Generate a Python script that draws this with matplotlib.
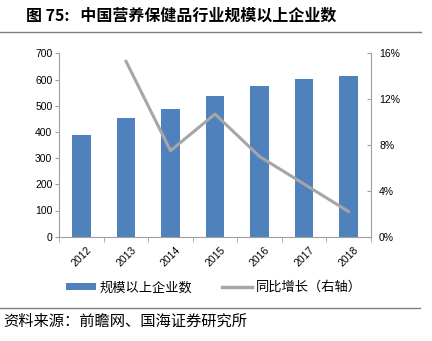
import matplotlib
matplotlib.use("Agg")
import matplotlib.pyplot as plt
import matplotlib.transforms as mtransforms
import numpy as np
from matplotlib.lines import Line2D
from matplotlib.patches import Patch

plt.rcParams["font.family"] = ["Liberation Sans", "Noto Sans CJK SC", "DejaVu Sans"]
CJK = ["Noto Sans CJK SC", "DejaVu Sans"]

years = ["2012", "2013", "2014", "2015", "2016", "2017", "2018"]
firms = [390, 452, 486, 537, 576, 601, 613]
growth_years = ["2013", "2014", "2015", "2016", "2017", "2018"]
growth = [15.3, 7.5, 10.7, 7.0, 4.6, 2.2]

BLUE = "#4F81BD"
GRAY = "#A6A6A6"
AXIS = "#A0A0A0"

fig = plt.figure(figsize=(4.32, 3.41), dpi=100)
ax = fig.add_axes([59.3 / 432, 1 - 236.7 / 341, (370.7 - 59.3) / 432, (236.7 - 53.3) / 341])

x = np.arange(len(years))
ax.bar(x, firms, width=0.41, color=BLUE, zorder=2)
ax.set_xlim(-0.5, len(years) - 0.5)
ax.set_ylim(0, 700)
ax.set_yticks(np.arange(0, 701, 100))
ax.tick_params(axis="y", direction="out", length=3, color=AXIS, labelsize=7.5, pad=2)
ax.set_xticks(x)
ax.set_xticklabels(years, rotation=45, ha="right", rotation_mode="anchor", fontsize=7.5)
ax.tick_params(axis="x", which="major", length=0, pad=6)
ax.set_xticks(np.arange(-0.5, len(years), 1), minor=True)
ax.tick_params(axis="x", which="minor", direction="out", length=3.5, color=AXIS)
shift = mtransforms.ScaledTranslation(5 / 100, 0, fig.dpi_scale_trans)
for lab in ax.get_xticklabels():
    lab.set_transform(lab.get_transform() + shift)
ax.spines["top"].set_visible(False)
ax.spines["right"].set_visible(False)
ax.spines["left"].set_color(AXIS)
ax.spines["bottom"].set_color(AXIS)

ax2 = ax.twinx()
gx = [years.index(y) for y in growth_years]
ax2.plot(gx, growth, color=GRAY, lw=2.2, zorder=3)
ax2.set_ylim(0, 16)
ax2.set_yticks(np.arange(0, 17, 4))
ax2.set_yticklabels([f"{v}%" for v in range(0, 17, 4)])
ax2.tick_params(axis="y", direction="in", length=3, color=AXIS, labelsize=7.5, pad=6)
ax2.spines["top"].set_visible(False)
ax2.spines["left"].set_visible(False)
ax2.spines["bottom"].set_visible(False)
ax2.spines["right"].set_color(AXIS)

handles = [Patch(facecolor=BLUE, edgecolor="none"), Line2D([], [], color=GRAY, lw=2.5)]
fig.legend(handles, ["规模以上企业数", "同比增长（右轴）"], loc="center",
           bbox_to_anchor=(0.495, 1 - 287.7 / 341), ncol=2, frameon=False,
           prop={"family": CJK, "size": 9.5, "weight": "light"}, handlelength=2.3,
           handleheight=0.45, handletextpad=0.3, columnspacing=2.2)

fig.text(26 / 432, 1 - 16 / 341, "图 75:   中国营养保健品行业规模以上企业数", family=CJK,
         fontsize=11.5, fontweight="bold", va="center", ha="left")
fig.add_artist(Line2D([0, 421 / 432], [1 - 31.5 / 341] * 2, color="#808080", lw=1))
fig.add_artist(Line2D([0, 420 / 432], [1 - 307.7 / 341] * 2, color="#808080", lw=1))
fig.text(3 / 432, 1 - 321 / 341, "资料来源：前瞻网、国海证券研究所", family=CJK,
         fontsize=11, fontweight="light", va="center", ha="left")

fig.savefig("out.png", dpi=100)
